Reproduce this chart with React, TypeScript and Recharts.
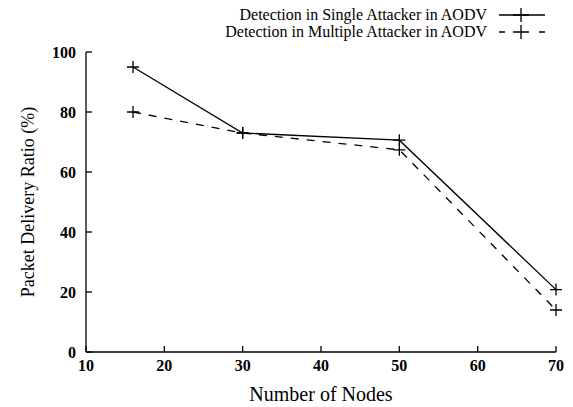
import { LineChart, Line, XAxis, YAxis, Legend } from "recharts";

const nodes = [16, 30, 50, 70];
const singleAttacker = [95, 73, 70.6, 20.8];
const multipleAttacker = [80, 73, 67.4, 14];
const xTicks = [10, 20, 30, 40, 50, 60, 70];
const yTicks = [0, 20, 40, 60, 80, 100];

const seriesNames = [
  "Detection in Single Attacker in AODV",
  "Detection in Multiple Attacker in AODV",
];

const data = nodes.map((n, i) => ({
  nodes: n,
  single: singleAttacker[i],
  multiple: multipleAttacker[i],
}));

const FONT = "Liberation Serif";

// gnuplot style plus marker
const PlusDot = (props: any) => {
  const { cx, cy } = props;
  if (cx == null || cy == null) return <g />;
  return (
    <path
      d={`M${cx - 6},${cy}H${cx + 6}M${cx},${cy - 6}V${cy + 6}`}
      stroke="#000"
      strokeWidth={1.3}
      fill="none"
    />
  );
};

const NoTick = () => <g />;

// legend box is 2 rows x 17px = 34px, which recharts adds on top of margin.top
const renderLegend = () => (
  <div style={{ fontFamily: FONT, fontSize: 16, color: "#000", lineHeight: "17px" }}>
    {seriesNames.map((name, i) => (
      <div
        key={name}
        style={{
          display: "flex",
          justifyContent: "flex-end",
          alignItems: "center",
          height: 17,
        }}
      >
        <span style={{ marginRight: 10 }}>{name}</span>
        <svg width={50} height={16}>
          <line
            x1={2}
            y1={8}
            x2={48}
            y2={8}
            stroke="#000"
            strokeWidth={1.3}
            strokeDasharray={i === 1 ? "6 34" : undefined}
          />
          <path d="M16,8H32M24,1V15" stroke="#000" strokeWidth={1.3} />
        </svg>
      </div>
    ))}
  </div>
);

export default function App() {
  return (
    <div style={{ position: "absolute", left: 0, top: 0, background: "#fff" }}>
      <LineChart
        width={573}
        height={407}
        data={data}
        margin={{ top: 18, right: 17, left: 26, bottom: 0 }}
      >
        <XAxis
          dataKey="nodes"
          type="number"
          domain={[10, 70]}
          ticks={xTicks}
          interval={0}
          height={55}
          tickSize={-6}
          tickMargin={14}
          stroke="#000"
          strokeWidth={1.3}
          tick={{ fill: "#000", fontSize: 16, fontWeight: "bold", fontFamily: FONT }}
          label={{
            value: "Number of Nodes",
            position: "insideBottom",
            offset: 6,
            fill: "#000",
            fontSize: 20,
            fontFamily: FONT,
          }}
        />
        <XAxis
          xAxisId="top"
          orientation="top"
          dataKey="nodes"
          type="number"
          domain={[10, 70]}
          ticks={xTicks}
          height={0}
          tickSize={-6}
          stroke="#000"
          strokeWidth={1.3}
          tick={NoTick}
        />
        <YAxis
          type="number"
          domain={[0, 100]}
          ticks={yTicks}
          interval={0}
          width={60}
          tickSize={-6}
          tickMargin={16}
          stroke="#000"
          strokeWidth={1.3}
          tick={{ fill: "#000", fontSize: 16, fontWeight: "bold", fontFamily: FONT }}
          label={{
            value: "Packet Delivery Ratio (%)",
            angle: -90,
            position: "insideLeft",
            offset: 2,
            style: { textAnchor: "middle" },
            fill: "#000",
            fontSize: 18,
            fontFamily: FONT,
          }}
        />
        <YAxis
          yAxisId="right"
          orientation="right"
          type="number"
          domain={[0, 100]}
          ticks={yTicks}
          width={0}
          tickSize={-6}
          stroke="#000"
          strokeWidth={1.3}
          tick={NoTick}
        />
        <Legend
          verticalAlign="top"
          align="right"
          content={renderLegend}
          wrapperStyle={{ top: 6, right: 26, width: 540 }}
        />
        <Line
          dataKey="single"
          name={seriesNames[0]}
          stroke="#000"
          strokeWidth={1.3}
          dot={PlusDot}
          isAnimationActive={false}
        />
        <Line
          dataKey="multiple"
          name={seriesNames[1]}
          stroke="#000"
          strokeWidth={1.3}
          strokeDasharray="8 8"
          dot={PlusDot}
          isAnimationActive={false}
        />
      </LineChart>
    </div>
  );
}
